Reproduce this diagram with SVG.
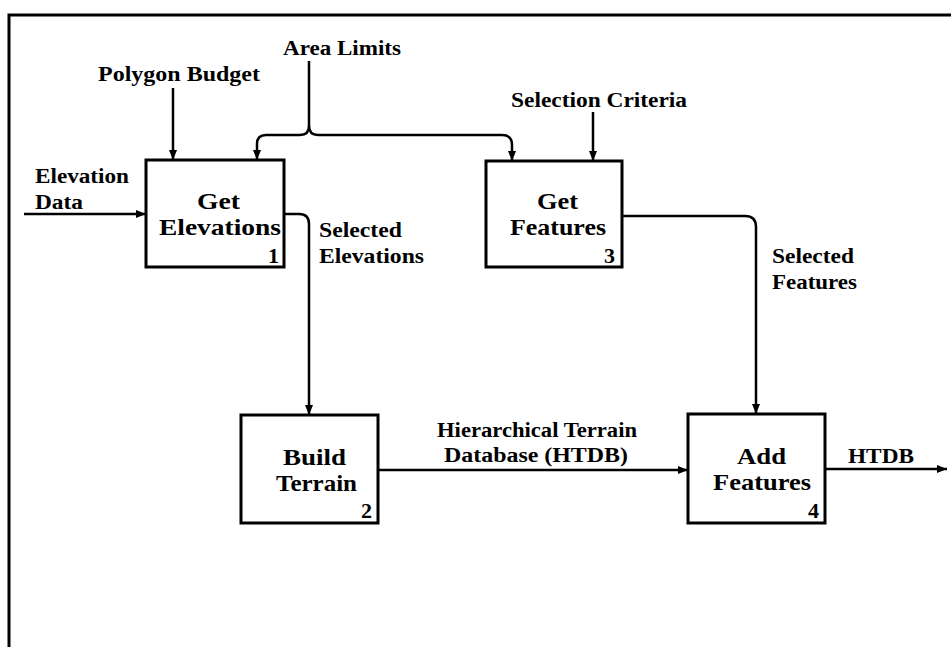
<svg xmlns="http://www.w3.org/2000/svg" width="951" height="647" viewBox="0 0 951 647">
<defs>
<marker id="ah" viewBox="0 0 10 8" refX="10" refY="4" markerWidth="10" markerHeight="8" markerUnits="userSpaceOnUse" orient="auto">
<path d="M0,0 L10,4 L0,8 Z" fill="#000"/>
</marker>
<style>
.box{fill:#fff;stroke:#000;stroke-width:3}
.ln{fill:none;stroke:#000;stroke-width:2.5}
.t{font-family:"Liberation Serif","Times New Roman",serif;font-weight:bold;fill:#000}
.big{font-size:24px}
.sm{font-size:20px}
.num{font-size:22px}
</style>
</defs>
<rect width="951" height="647" fill="#fff"/>
<g id="frame">
<path d="M9,647 L9,15 L951,15" fill="none" stroke="#000" stroke-width="3"/>
</g>
<g id="connectors">
<path class="ln" d="M24,214 L146,214" marker-end="url(#ah)"/>
<path class="ln" d="M173,88 L173,160" marker-end="url(#ah)"/>
<path class="ln" d="M309,61 L309,126 Q309,135 300,135 L266,135 Q257,135 257,144 L257,160" marker-end="url(#ah)"/>
<path class="ln" d="M309,126 Q309,135 318,135 L502,135 Q512,135 512,145 L512,161" marker-end="url(#ah)"/>
<path class="ln" d="M593,112 L593,161" marker-end="url(#ah)"/>
<path class="ln" d="M284,214 L299,214 Q309,214 309,224 L309,415" marker-end="url(#ah)"/>
<path class="ln" d="M622,216 L745,216 Q756,216 756,227 L756,414" marker-end="url(#ah)"/>
<path class="ln" d="M378,470 L688,470" marker-end="url(#ah)"/>
<path class="ln" d="M825,469 L947,469" marker-end="url(#ah)"/>
</g>
<g id="labels">
<text class="t sm" x="35" y="183" textLength="94" lengthAdjust="spacingAndGlyphs">Elevation</text>
<text class="t sm" x="35" y="209" textLength="48" lengthAdjust="spacingAndGlyphs">Data</text>
<text class="t sm" x="98" y="81" textLength="162" lengthAdjust="spacingAndGlyphs">Polygon Budget</text>
<text class="t sm" x="283" y="55" textLength="118" lengthAdjust="spacingAndGlyphs">Area Limits</text>
<text class="t sm" x="511" y="107" textLength="176" lengthAdjust="spacingAndGlyphs">Selection Criteria</text>
<text class="t sm" x="319" y="237" textLength="83" lengthAdjust="spacingAndGlyphs">Selected</text>
<text class="t sm" x="319" y="263" textLength="105" lengthAdjust="spacingAndGlyphs">Elevations</text>
<text class="t sm" x="772" y="263" textLength="82" lengthAdjust="spacingAndGlyphs">Selected</text>
<text class="t sm" x="772" y="289" textLength="85" lengthAdjust="spacingAndGlyphs">Features</text>
<text class="t sm" x="437" y="437" textLength="200" lengthAdjust="spacingAndGlyphs">Hierarchical Terrain</text>
<text class="t sm" x="444" y="462" textLength="184" lengthAdjust="spacingAndGlyphs">Database (HTDB)</text>
<text class="t sm" x="848" y="463" textLength="66" lengthAdjust="spacingAndGlyphs">HTDB</text>
</g>
<g id="node1">
<rect class="box" x="146" y="160" width="138" height="107"/>
<text class="t big" x="197" y="209" textLength="43" lengthAdjust="spacingAndGlyphs">Get</text>
<text class="t big" x="159" y="235" textLength="122" lengthAdjust="spacingAndGlyphs">Elevations</text>
<text class="t num" x="268" y="263">1</text>
</g>
<g id="node2">
<rect class="box" x="241" y="415" width="137" height="108"/>
<text class="t big" x="283" y="465" textLength="63" lengthAdjust="spacingAndGlyphs">Build</text>
<text class="t big" x="276" y="491" textLength="81" lengthAdjust="spacingAndGlyphs">Terrain</text>
<text class="t num" x="361" y="518">2</text>
</g>
<g id="node3">
<rect class="box" x="486" y="161" width="136" height="106"/>
<text class="t big" x="537" y="209" textLength="41" lengthAdjust="spacingAndGlyphs">Get</text>
<text class="t big" x="510" y="235" textLength="96" lengthAdjust="spacingAndGlyphs">Features</text>
<text class="t num" x="604" y="263">3</text>
</g>
<g id="node4">
<rect class="box" x="688" y="414" width="137" height="109"/>
<text class="t big" x="737" y="464" textLength="49" lengthAdjust="spacingAndGlyphs">Add</text>
<text class="t big" x="713" y="490" textLength="98" lengthAdjust="spacingAndGlyphs">Features</text>
<text class="t num" x="808" y="518">4</text>
</g>
</svg>
